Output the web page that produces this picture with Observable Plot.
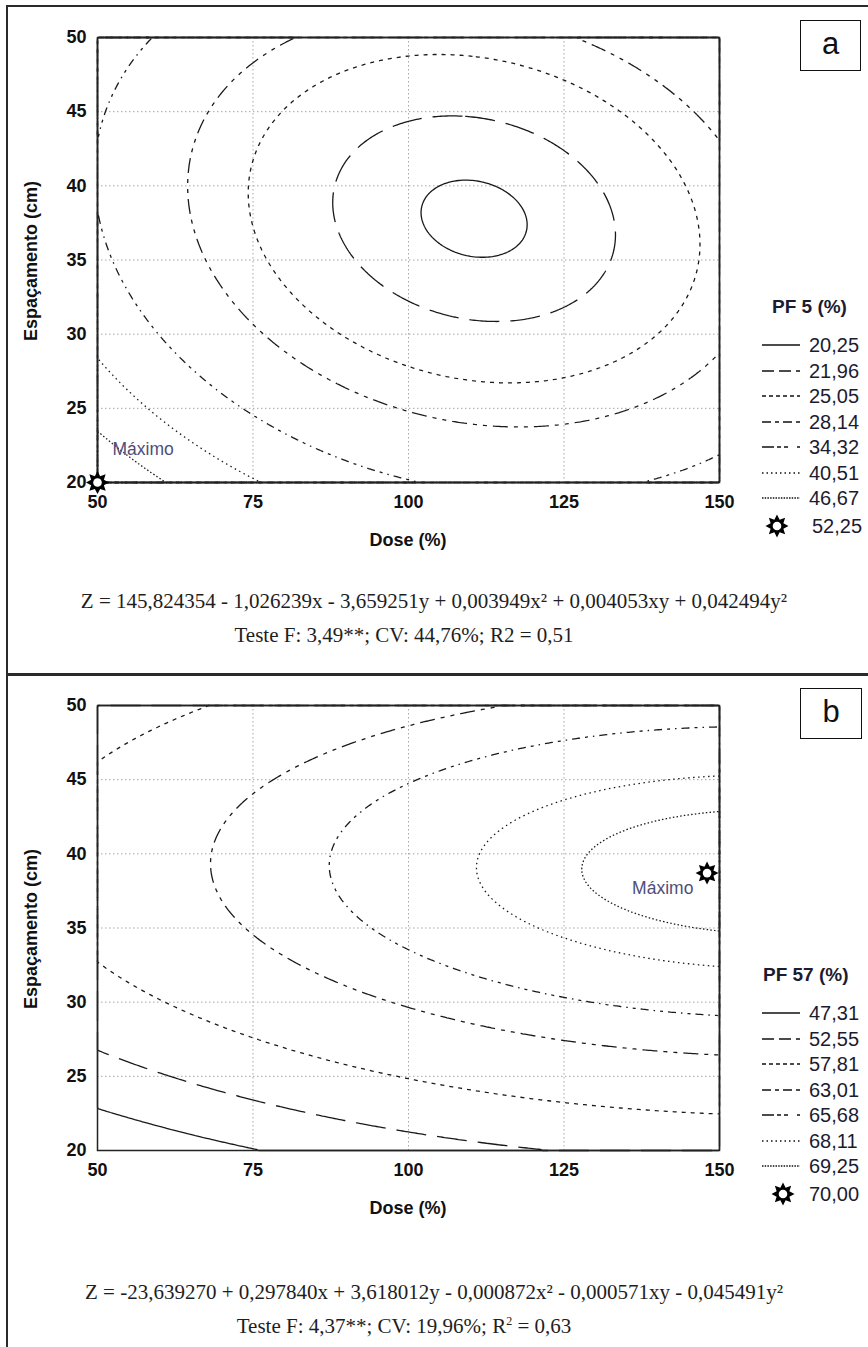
<!DOCTYPE html>
<html><head><meta charset="utf-8">
<script src="https://cdn.jsdelivr.net/npm/d3@7"></script>
<script src="https://cdn.jsdelivr.net/npm/@observablehq/plot@0.6"></script>
<style>
body{margin:0;background:#fff;}
#page{position:relative;width:868px;height:1347px;overflow:hidden;background:#fff;font-family:"Liberation Sans",Arial,sans-serif;}
.ln{position:absolute;background:#2a2a2a;}
.box{position:absolute;border:1.5px solid #111;box-sizing:border-box;text-align:center;font-size:31px;color:#111;line-height:46px;}
.eq{position:absolute;width:868px;text-align:center;font-family:"Liberation Serif","Times New Roman",serif;font-size:21px;color:#1e1e1e;white-space:nowrap;line-height:24px;}
.axl{position:absolute;font-weight:bold;font-size:18px;color:#111;white-space:nowrap;}
.legt{position:absolute;font-weight:bold;font-size:19px;color:#1c1c30;white-space:nowrap;line-height:22px;}
.legl{position:absolute;font-size:20px;color:#1c1c30;white-space:nowrap;line-height:22px;}
.plotwrap{position:absolute;left:0;}
</style>
</head><body>
<div id="page"></div>
<script>
// ---------- data ----------
const doseTicks = [50, 75, 100, 125, 150];
const espTicks = [20, 25, 30, 35, 40, 45, 50];

// Panel a : PF 5 (%)
const levelsA = [20.25, 21.96, 25.05, 28.14, 34.32, 40.51, 46.67];
const maxValueA = 52.25;
const maxPointA = [{dose: 50, esp: 20}];
const maxLabelA = [{dose: 52.4, esp: 22.2}];
const coefA = [145.824354, -1.026239, -3.659251, 0.003949, 0.004053, 0.042494]; // 1, x, y, x², xy, y²
const statsA = ["3,49**", "44,76%", "0,51"];

// Panel b : PF 57 (%)
const levelsB = [47.31, 52.55, 57.81, 63.01, 65.68, 68.11, 69.25];
const maxValueB = 70.00;
const maxPointB = [{dose: 148, esp: 38.7}];
const maxLabelB = [{dose: 145.8, esp: 37.7}];
const coefB = [-23.639270, 0.297840, 3.618012, -0.000872, -0.000571, -0.045491];
const statsB = ["4,37**", "19,96%", "0,63"];

// ---------- styles ----------
const plotDash = [null, "30,11", "4,5", "15,6,4,6,4,6", "8,5,3,5,1.5,5", "1.5,3.5", "1.5,2.2"];
const legDash = [null, "12,5", "4,3", "9,4,4,4", "12,3,4,3,4,9", "1.5,3", "1.5,1.2"];
const FONT = "Liberation Sans, Arial, sans-serif";

const page = document.getElementById("page");
function el(cls, css, html) {
  const d = document.createElement("div");
  d.className = cls;
  Object.assign(d.style, css);
  if (html != null) d.innerHTML = html;
  page.appendChild(d);
  return d;
}

const fmt = (v, d) => Math.abs(v).toFixed(d).replace(".", ",");
function eqText(c) {
  const terms = ["", "x", "y", "x²", "xy", "y²"];
  let s = "Z = " + (c[0] < 0 ? "-" : "") + fmt(c[0], 6);
  for (let i = 1; i < 6; i++) s += (c[i] < 0 ? " - " : " + ") + fmt(c[i], 6) + terms[i];
  return s;
}
const model = c => (x, y) => c[0] + c[1]*x + c[2]*y + c[3]*x*x + c[4]*x*y + c[5]*y*y;

function starPath(ctx, R) {
  const r = R * 0.6;
  for (let k = 0; k < 16; k++) {
    const a = Math.PI * k / 8 - Math.PI / 2;
    const rr = k % 2 ? r : R;
    const px = rr * Math.cos(a), py = rr * Math.sin(a);
    k ? ctx.lineTo(px, py) : ctx.moveTo(px, py);
  }
  ctx.closePath();
}
const starSymbol = { draw(ctx, size) { starPath(ctx, Math.sqrt(size / Math.PI)); } };

function panel(top, coef, levels, maxPt, maxLbl, anchor) {
  const chart = Plot.plot({
    width: 868, height: 540,
    marginLeft: 97, marginRight: 149, marginTop: 37, marginBottom: 58,
    x: {domain: [50, 150], ticks: doseTicks, tickSize: 0, tickPadding: 13, label: null},
    y: {domain: [20, 50], ticks: espTicks, tickSize: 0, tickPadding: 11, label: null},
    style: {fontFamily: FONT, fontSize: "18px", fontWeight: "bold", color: "#111", background: "transparent", overflow: "visible"},
    marks: [
      Plot.gridX(doseTicks.slice(1, -1), {stroke: "#a8a8a8", strokeOpacity: 1, strokeDasharray: "1.5,2.5"}),
      Plot.gridY(espTicks.slice(1, -1), {stroke: "#a8a8a8", strokeOpacity: 1, strokeDasharray: "1.5,2.5"}),
      ...levels.map((t, i) => Plot.contour({
        value: model(coef), x1: 50, x2: 150, y1: 20, y2: 50,
        thresholds: [t], fill: "none", stroke: "#1a1a1a", strokeWidth: 1.3,
        strokeDasharray: plotDash[i] || undefined
      })),
      Plot.frame({stroke: "#222", strokeWidth: 1.5}),
      Plot.text(maxLbl, {x: "dose", y: "esp", text: () => "Máximo", textAnchor: anchor,
        fontSize: 17.5, fontWeight: "normal", fill: "#4e4e78"}),
      Plot.dot(maxPt, {x: "dose", y: "esp", symbol: starSymbol, r: 11.5, fill: "#000", stroke: "none"}),
      Plot.dot(maxPt, {x: "dose", y: "esp", r: 4.3, fill: "#fff", stroke: "none"})
    ]
  });
  const w = el("plotwrap", {top: top + "px"});
  w.appendChild(chart);
}

function legend(off, title, titleLeft, levels, maxValue, starX, maxLeft) {
  el("legt", {left: titleLeft + "px", top: (off + 307 - 11) + "px"}, title);
  levels.forEach((t, i) => {
    const y = off + 345 + i * 25.5;
    const dash = legDash[i] ? ` stroke-dasharray="${legDash[i]}"` : "";
    el("legl", {left: "762px", top: (y - 5) + "px", lineHeight: "10px"},
      `<svg width="38" height="10" style="display:block"><line x1="0" x2="38" y1="5" y2="5" stroke="#111" stroke-width="1.5"${dash}/></svg>`);
    el("legl", {left: "809px", top: (y - 11) + "px"}, t.toFixed(2).replace(".", ","));
  });
  const ys = off + 526;
  const p = d3.path(); starPath(p, 11.5);
  el("legl", {left: (starX - 12) + "px", top: (ys - 12) + "px", lineHeight: "24px"},
    `<svg width="24" height="24" style="display:block"><g transform="translate(12,12)"><path d="${p}" fill="#000"/><circle r="4.3" fill="#fff"/></g></svg>`);
  el("legl", {left: maxLeft + "px", top: (ys - 11) + "px"}, maxValue.toFixed(2).replace(".", ","));
}

function texts(off, coef, stats, sup, eqY, testeY) {
  el("axl", {left: "408px", top: (off + 540) + "px", transform: "translate(-50%,-50%)"}, "Dose (%)");
  el("axl", {left: "31px", top: (off + 261) + "px", transform: "translate(-50%,-50%) rotate(-90deg)"}, "Espaçamento (cm)");
  el("eq", {left: "0px", top: (eqY - 12) + "px"}, eqText(coef));
  const r2 = sup ? "R<sup style=\"font-size:12px;vertical-align:8px;line-height:0\">2</sup>" : "R2";
  el("eq", {left: "-30px", top: (testeY - 12) + "px"}, `Teste F: ${stats[0]}; CV: ${stats[1]}; ${r2} = ${stats[2]}`);
}

// frame lines
el("ln", {left: "6px", top: "5px", width: "862px", height: "2px"});
el("ln", {left: "6px", top: "5px", width: "2px", height: "1342px"});
el("ln", {left: "6px", top: "673px", width: "862px", height: "3px"});

panel(0, coefA, levelsA, maxPointA, maxLabelA, "start");
panel(668, coefB, levelsB, maxPointB, maxLabelB, "end");
texts(0, coefA, statsA, false, 601, 635);
texts(668, coefB, statsB, true, 1292, 1326);
legend(0, "PF 5 (%)", 772, levelsA, maxValueA, 777, 812);
legend(668, "PF 57 (%)", 763, levelsB, maxValueB, 783, 809);

el("box", {left: "800px", top: "20px", width: "61px", height: "51px"}, "a");
el("box", {left: "800px", top: "688px", width: "62px", height: "51px"}, "b");
</script>
</body></html>
